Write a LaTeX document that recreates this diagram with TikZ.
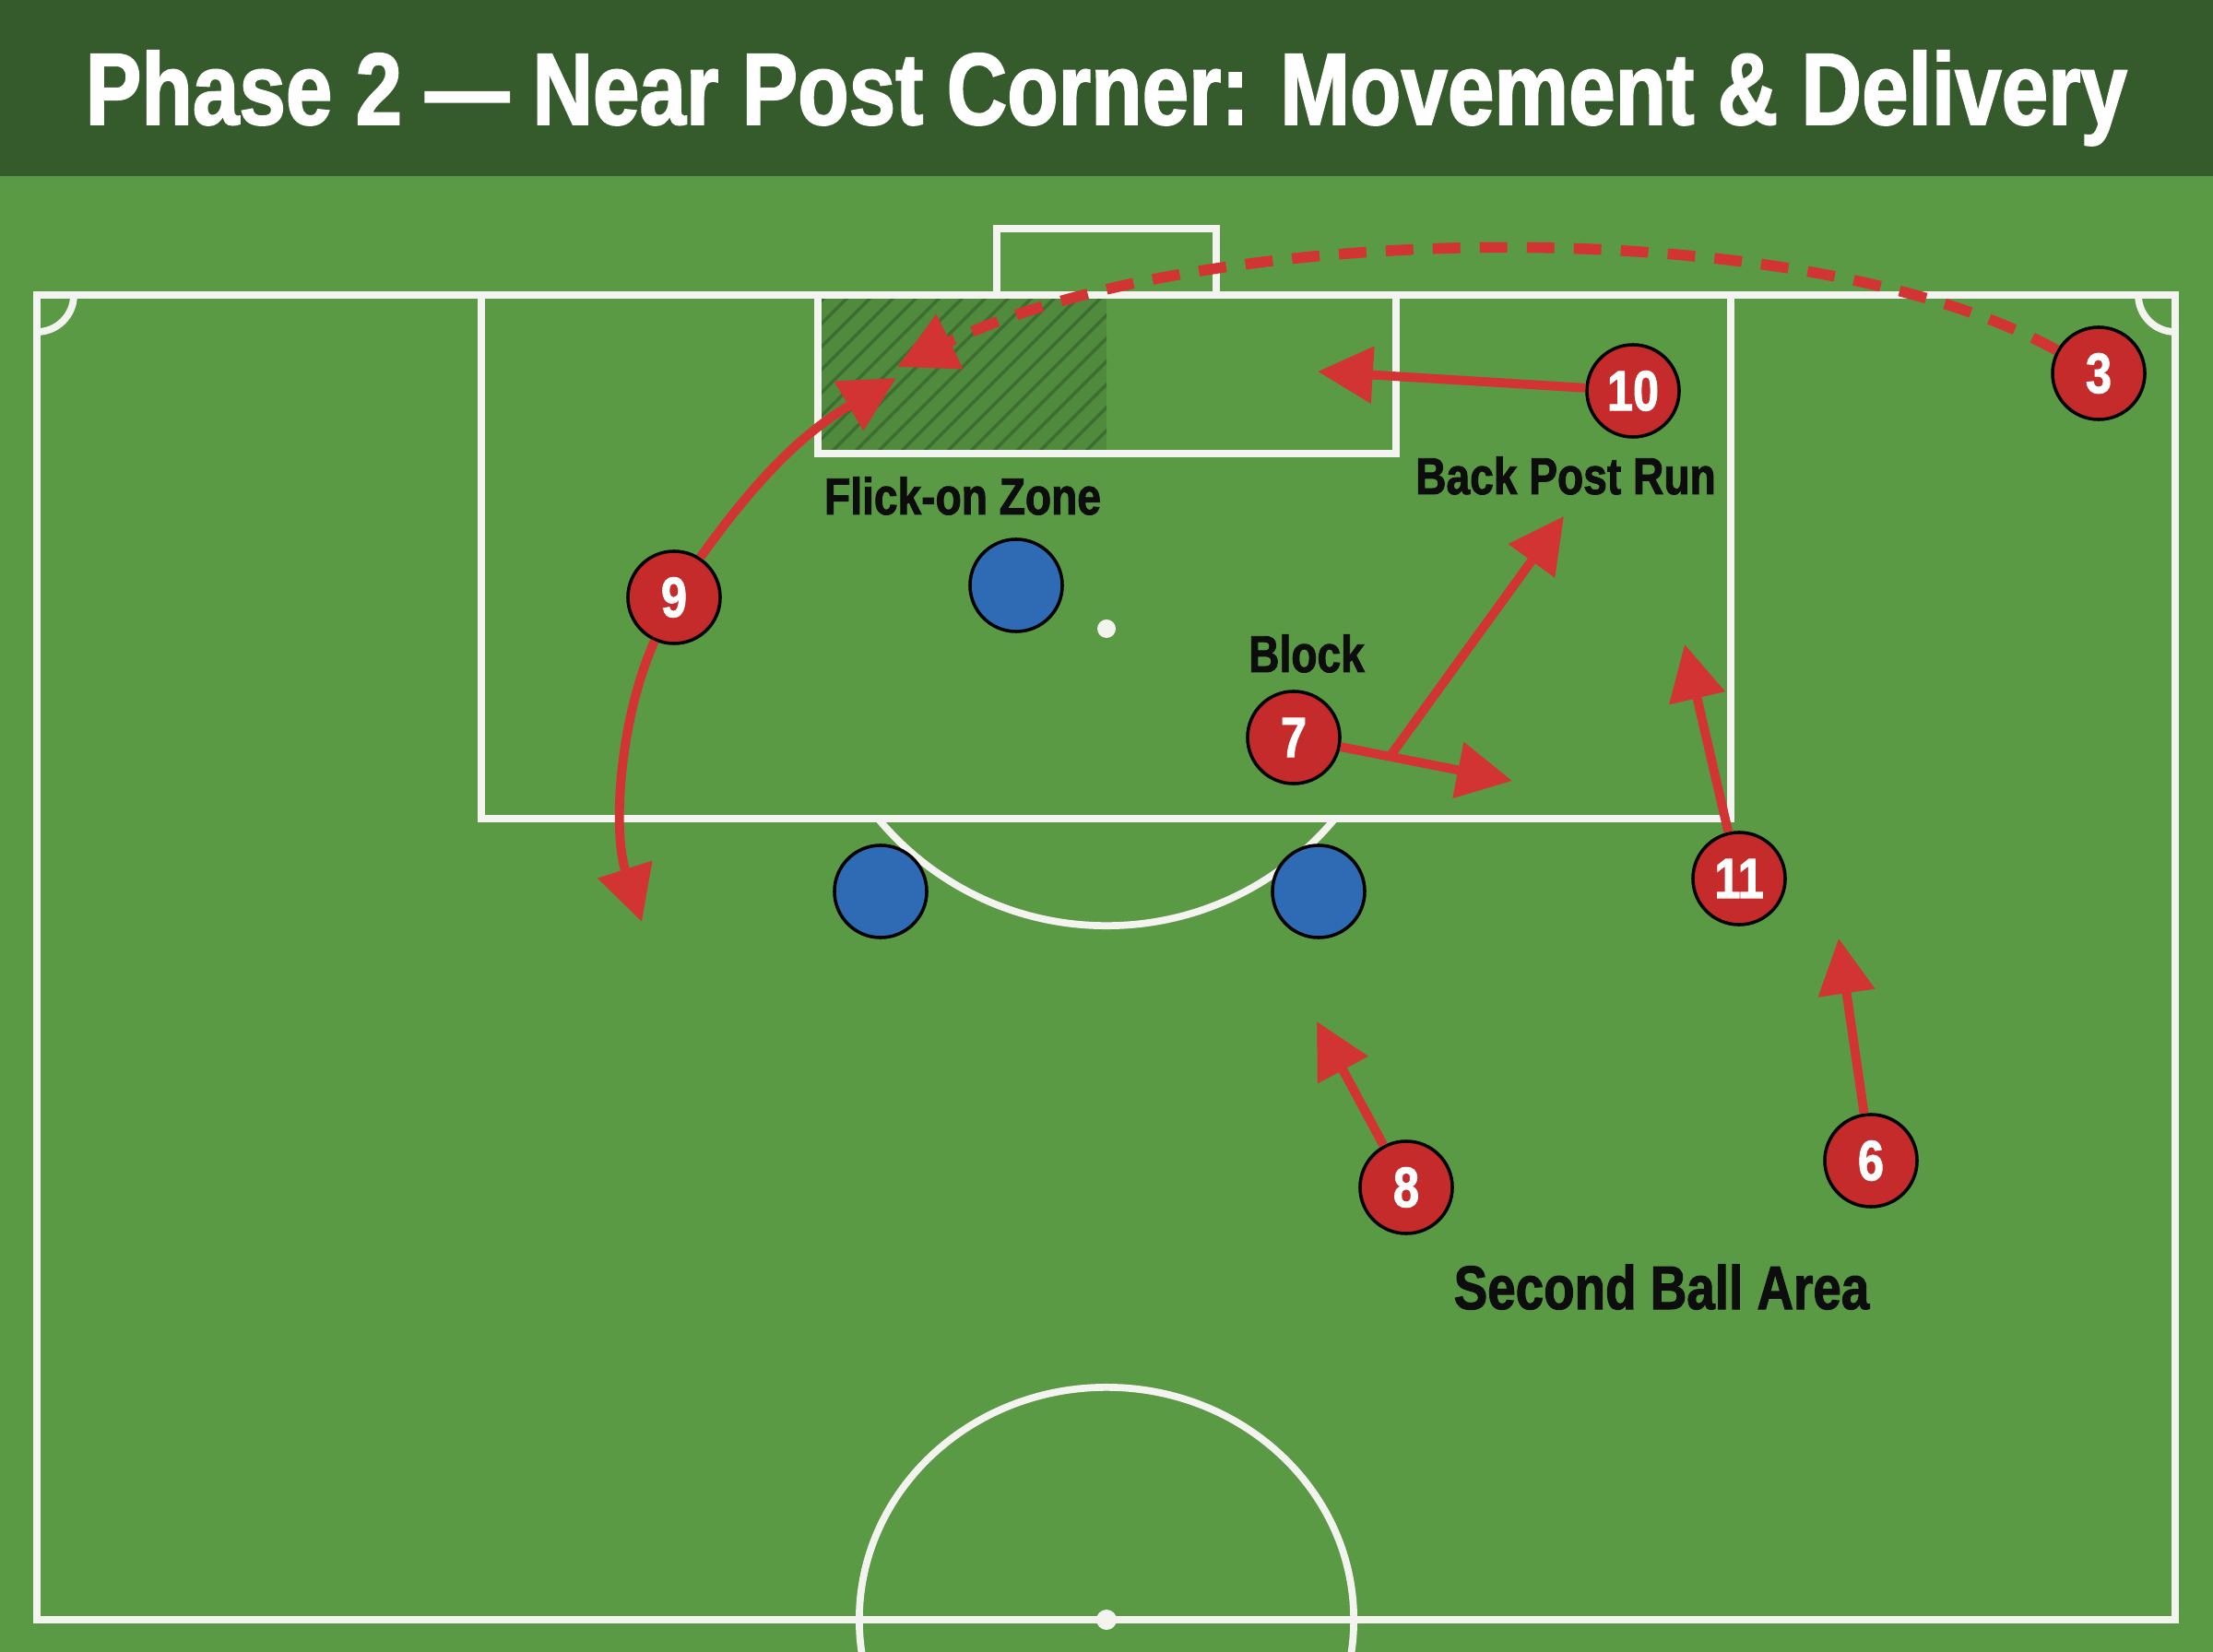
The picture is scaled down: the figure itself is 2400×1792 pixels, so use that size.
\documentclass[tikz,border=0pt]{standalone}
\usepackage{fontspec}
\setmainfont{Liberation Sans}[FakeStretch=0.82,BoldFeatures={FakeBold=1.6}]
\usetikzlibrary{arrows.meta,calc}
\definecolor{header}{HTML}{355A2C}
\definecolor{pitch}{HTML}{5A9A44}
\definecolor{zone}{HTML}{4F8A3D}
\definecolor{stripe}{HTML}{3E6D32}
\definecolor{lineW}{HTML}{F3F3F0}
\definecolor{redP}{HTML}{C52B2A}
\definecolor{redA}{HTML}{D13432}
\definecolor{blueP}{HTML}{2F6BB4}
\begin{document}
\begin{tikzpicture}[x=0.01cm,y=-0.01cm,
 pline/.style={draw=lineW,line width=2.2pt},
 attacker/.style={circle,fill=redP,draw=black,line width=1pt,minimum size=1cm,inner sep=0pt,text=white,font=\fontsize{17.5}{17.5}\selectfont\bfseries},
 defender/.style={circle,fill=blueP,draw=black,line width=1pt,minimum size=1cm,inner sep=0pt},
 run/.style={draw=redA,line width=2.8pt,-{Triangle[length=17pt,width=17pt]}},
 delivery/.style={draw=redA,line width=3.3pt,dash pattern=on 8.5pt off 6pt,-{Triangle[length=18pt,width=18pt]}},
 lbl/.style={text=black!95,font=\fontsize{16}{16}\selectfont\bfseries,anchor=base,inner sep=0pt}]
\useasboundingbox (0,0) rectangle (2400,1792);
\fill[pitch] (0,0) rectangle (2400,1792);
\fill[header] (0,0) rectangle (2400,191);
\node[anchor=base,text=white,inner sep=0pt,font=\fontsize{31.5}{32}\selectfont\bfseries] (title) at (1200,135) {Phase 2 — Near Post Corner: Movement \& Delivery};
% flick-on zone hatch
\fill[zone] (887,320) rectangle (1200,492);
\begin{scope}
\clip (887,320) rectangle (1200,492);
\foreach \s in {700,725,...,1225} \draw[stripe,line width=1pt] (\s,492) -- ++(172,-172);
\end{scope}
% pitch lines
\draw[pline] (40,1757) -- (40,320) -- (2359,320) -- (2359,1757) -- cycle;
\draw[pline] (522,320) -- (522,888) -- (1877,888) -- (1877,320);
\draw[pline] (887,320) -- (887,492) -- (1514,492) -- (1514,320);
\draw[pline] (1081,320) -- (1081,248) -- (1319,248) -- (1319,320);
\fill[lineW] (1200,682) circle[radius=0.1cm];
\begin{scope}
\clip (0,888) rectangle (2400,1200);
\draw[pline] (1200,682) circle[radius=3.22cm];
\end{scope}
\draw[pline] (1200,1757) ellipse [x radius=2.68cm, y radius=2.52cm];
\fill[lineW] (1200,1757) circle[radius=0.11cm];
\begin{scope}
\clip (40,320) rectangle (2359,1757);
\draw[pline] (40,320) circle[radius=0.4cm];
\draw[pline] (2359,320) circle[radius=0.4cm];
\end{scope}
% players
\node[attacker] (p3) at (2276,405) {3};
\node[attacker] (p10) at (1771,424) {10};
\node[attacker] (p9) at (731,648) {9};
\node[attacker] (p7) at (1403,800) {7};
\node[attacker] (p11) at (1886,953) {11};
\node[attacker] (p8) at (1525,1288) {8};
\node[attacker] (p6) at (2029,1259) {6};
\node[defender] (d1) at (1102,635) {};
\node[defender] (d2) at (955,967) {};
\node[defender] (d3) at (1430,967) {};
% arrow tips
\coordinate (t3) at (973,398);
\coordinate (t10) at (1429,403);
\coordinate (t9a) at (972,410);
\coordinate (t9b) at (696,1000);
\coordinate (t7a) at (1640,847);
\coordinate (t7b) at (1696,560);
\coordinate (t11) at (1827,699);
\coordinate (t6) at (1994,1018);
\coordinate (t8) at (1428,1108);
\coordinate (b7) at ($(p7)!0.44!(t7a)$);
% movements
\draw[delivery] (p3) .. controls (1950,225) and (1300,240) .. (t3);
\draw[run] (p10) -- (t10);
\draw[run] (p9) to[bend left=12] (t9a);
\draw[run] (p9) .. controls (672,780) and (664,900) .. (t9b);
\draw[run] (p7) -- (t7a);
\draw[run] (b7) -- (t7b);
\draw[run] (p11) -- (t11);
\draw[run] (p6) -- (t6);
\draw[run] (p8) -- (t8);
% labels
\node[lbl] (lflick) at (1044,558) {Flick-on Zone};
\node[lbl] (lback) at (1698,536) {Back Post Run};
\node[lbl] (lblock) at (1417,729) {Block};
\node[lbl,font=\fontsize{19}{19}\selectfont\bfseries] (lsecond) at (1802,1420) {Second Ball Area};
\end{tikzpicture}
\end{document}
